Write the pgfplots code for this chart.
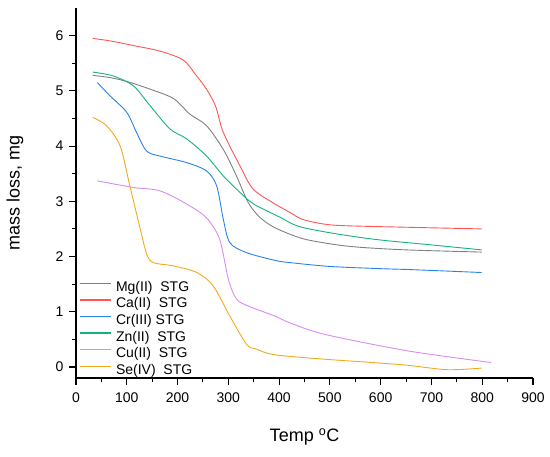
\documentclass[border=0pt]{standalone}
\usepackage{fontspec}
\setmainfont{Liberation Sans}
\usepackage{pgfplots}
\pgfplotsset{compat=1.18}
\definecolor{cMg}{RGB}{128,128,128}
\definecolor{cCa}{RGB}{255,85,85}
\definecolor{cCr}{RGB}{40,130,235}
\definecolor{cZn}{RGB}{20,180,120}
\definecolor{cCu}{RGB}{215,140,240}
\definecolor{cSe}{RGB}{240,170,30}
\begin{document}
\begin{tikzpicture}
\begin{axis}[
  scale only axis, width=457bp, height=370bp,
  xmin=0, xmax=900, ymin=-0.2, ymax=6.5,
  axis x line*=bottom, axis y line*=left,
  axis line style={line width=1.2bp, black},
  xtick={0,100,...,900}, ytick={0,1,...,6},
  minor x tick num=1, minor y tick num=1,
  tick align=outside,
  major tick length=7bp, minor tick length=4bp,
  tick style={line width=1.1bp, black},
  /pgf/number format/assume math mode=true,
  ticklabel style={font=\fontsize{14bp}{16bp}\selectfont},
  xticklabel style={yshift=-4bp},
  yticklabel style={xshift=-2bp},
  xlabel={Temp \textsuperscript{o}C},
  ylabel={mass loss, mg},
  every axis x label/.style={at={(rel axis cs:0.5,0)}, anchor=center, yshift=-59bp, font=\fontsize{18bp}{21bp}\selectfont},
  every axis y label/.style={at={(rel axis cs:0,0.5)}, anchor=center, rotate=90, yshift=61bp, font=\fontsize{18bp}{21bp}\selectfont},
  legend cell align=left,
  legend style={at={(axis cs:7,1.555)}, anchor=north west, draw=none, fill=none,
    font=\fontsize{14bp}{16bp}\selectfont, row sep=3.6bp, inner sep=0pt,
    nodes={inner sep=0pt, text height=10bp, text depth=3bp},
    /tikz/every odd column/.append style={column sep=4bp}},
  legend image code/.code={\draw[#1, line width=1.3bp] (0bp,4.5bp) -- (31bp,4.5bp);},
  every axis plot/.append style={line width=0.9bp, smooth, tension=0.5},
  clip=false,
]
\addplot[cMg] coordinates {(33,5.28)(67,5.24)(100,5.17)(146,5.03)(192,4.86)(224,4.58)(257,4.37)(290,3.94)(316,3.46)(339,2.98)(362,2.71)(392,2.52)(444,2.33)(500,2.23)(555,2.17)(650,2.12)(799,2.08)};
\addlegendentry{Mg(II)\ \ STG}
\addplot[cCa] coordinates {(33,5.95)(70,5.90)(113,5.82)(165,5.72)(211,5.56)(235,5.30)(257,5.03)(275,4.72)(290,4.25)(323,3.64)(349,3.22)(392,2.95)(421,2.80)(444,2.68)(480,2.60)(523,2.56)(650,2.53)(799,2.50)};
\addlegendentry{Ca(II)\ \ STG}
\addplot[cCr] coordinates {(42,5.15)(67,4.91)(100,4.61)(119,4.25)(139,3.91)(165,3.82)(218,3.70)(257,3.55)(277,3.28)(290,2.68)(303,2.25)(336,2.07)(392,1.93)(421,1.89)(500,1.82)(600,1.78)(667,1.76)(799,1.71)};
\addlegendentry{Cr(III) STG}
\addplot[cZn] coordinates {(33,5.34)(73,5.27)(113,5.09)(146,4.73)(185,4.31)(218,4.13)(257,3.82)(290,3.46)(323,3.16)(350,2.95)(402,2.71)(437,2.55)(500,2.43)(589,2.31)(700,2.21)(799,2.12)};
\addlegendentry{Zn(II)\ \ STG}
\addplot[cCu] coordinates {(42,3.37)(113,3.25)(165,3.19)(218,2.95)(257,2.70)(283,2.31)(300,1.59)(316,1.23)(340,1.10)(392,0.92)(421,0.80)(490,0.59)(654,0.29)(818,0.08)};
\addlegendentry{Cu(II)\ \ STG}
\addplot[cSe] coordinates {(33,4.52)(60,4.37)(87,4.00)(106,3.28)(126,2.52)(139,2.05)(152,1.89)(192,1.83)(238,1.71)(270,1.47)(303,0.92)(336,0.41)(356,0.32)(392,0.22)(490,0.14)(600,0.07)(654,0.03)(732,-0.05)(799,-0.02)};
\addlegendentry{Se(IV)\ \ STG}
\end{axis}
\pgfresetboundingbox
\path (-76bp,-79bp) rectangle (474bp,378bp);
\end{tikzpicture}
\end{document}
